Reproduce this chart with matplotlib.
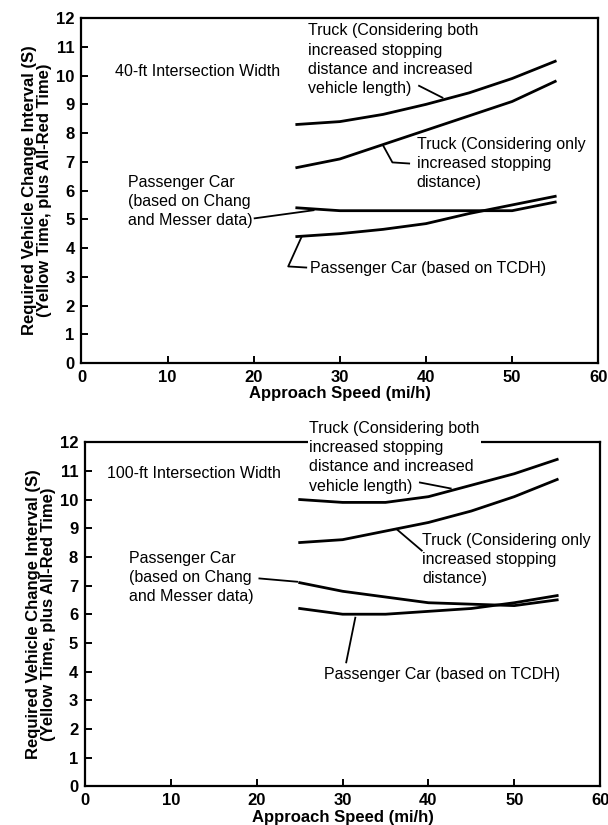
import matplotlib.pyplot as plt

plt.rcParams['font.family'] = ['Liberation Sans', 'DejaVu Sans']

speed = [25, 30, 35, 40, 45, 50, 55]

# 40-ft intersection width
truck_both_40 = [8.3, 8.4, 8.65, 9.0, 9.4, 9.9, 10.5]
truck_stop_40 = [6.8, 7.1, 7.6, 8.1, 8.6, 9.1, 9.8]
car_chang_40 = [5.4, 5.3, 5.3, 5.3, 5.3, 5.3, 5.6]
car_tcdh_40 = [4.4, 4.5, 4.65, 4.85, 5.2, 5.5, 5.8]

# 100-ft intersection width
truck_both_100 = [10.0, 9.9, 9.9, 10.1, 10.5, 10.9, 11.4]
truck_stop_100 = [8.5, 8.6, 8.9, 9.2, 9.6, 10.1, 10.7]
car_chang_100 = [7.1, 6.8, 6.6, 6.4, 6.35, 6.3, 6.5]
car_tcdh_100 = [6.2, 6.0, 6.0, 6.1, 6.2, 6.4, 6.65]

xticks = [0, 10, 20, 30, 40, 50, 60]
yticks = list(range(13))

lbl_both = "Truck (Considering both\nincreased stopping\ndistance and increased\nvehicle length)"
lbl_stop = "Truck (Considering only\nincreased stopping\ndistance)"
lbl_chang = "Passenger Car\n(based on Chang\nand Messer data)"
lbl_tcdh = "Passenger Car (based on TCDH)"

LW = 2.0
FS = 11.5
LS = 1.35


def setup_axes(ax):
    ax.set_xlim(0, 60)
    ax.set_ylim(0, 12)
    ax.set_xticks(xticks)
    ax.set_yticks(yticks)
    ax.tick_params(direction='in', length=5, width=1.4, labelsize=12, pad=5)
    for lab in ax.get_xticklabels() + ax.get_yticklabels():
        lab.set_fontweight('bold')
    for sp in ax.spines.values():
        sp.set_linewidth(1.6)
    ax.set_xlabel("Approach Speed (mi/h)", fontsize=12, fontweight='bold', labelpad=1)
    ax.set_ylabel("Required Vehicle Change Interval (S)\n(Yellow Time, plus All-Red Time)",
                  fontsize=12, fontweight='bold', labelpad=3, linespacing=1.0)


def leader(ax, xs, ys):
    ax.plot(xs, ys, color='black', lw=1.3, solid_capstyle='butt', zorder=3)


fig = plt.figure(figsize=(6.08, 8.25), dpi=100)

# top panel
ax1 = fig.add_axes([0.134, 0.560, 0.850, 0.418])
setup_axes(ax1)
for ys in (truck_both_40, truck_stop_40, car_chang_40, car_tcdh_40):
    ax1.plot(speed, ys, color='black', lw=LW, zorder=3)
ax1.text(3.85, 10.13, "40-ft Intersection Width", fontsize=FS, va='center')
ax1.text(26.3, 11.82, lbl_both, fontsize=FS, va='top', linespacing=LS)
leader(ax1, [39.1, 42.0], [9.66, 9.22])
ax1.text(38.9, 7.88, lbl_stop, fontsize=FS, va='top', linespacing=LS)
leader(ax1, [35.0, 36.1, 38.15], [7.58, 6.98, 6.94])
ax1.text(5.44, 6.55, lbl_chang, fontsize=FS, va='top', linespacing=LS)
leader(ax1, [20.0, 27.05], [5.03, 5.32])
ax1.text(26.5, 3.3, lbl_tcdh, fontsize=FS, va='center')
leader(ax1, [25.6, 24.0, 26.2], [4.42, 3.36, 3.32])

# bottom panel
ax2 = fig.add_axes([0.140, 0.047, 0.847, 0.417])
setup_axes(ax2)
for ys in (truck_both_100, truck_stop_100, car_chang_100, car_tcdh_100):
    ax2.plot(speed, ys, color='black', lw=LW, zorder=3)
ax2.text(2.6, 10.9, "100-ft Intersection Width", fontsize=FS, va='center')
# the label box breaks the top frame line, as in the original figure
ax2.text(26.1, 12.74, lbl_both, fontsize=FS, va='top', linespacing=LS, zorder=2.7,
         bbox=dict(facecolor='white', edgecolor='none', pad=1), clip_on=False)
leader(ax2, [38.9, 42.7], [10.6, 10.38])
ax2.text(39.3, 8.85, lbl_stop, fontsize=FS, va='top', linespacing=LS)
leader(ax2, [36.2, 39.3], [8.99, 8.2])
ax2.text(5.1, 8.22, lbl_chang, fontsize=FS, va='top', linespacing=LS)
leader(ax2, [20.2, 24.8], [7.25, 7.13])
ax2.text(27.8, 3.88, lbl_tcdh, fontsize=FS, va='center')
leader(ax2, [31.5, 30.4], [5.91, 4.29])

fig.savefig("out.png", dpi=100)
